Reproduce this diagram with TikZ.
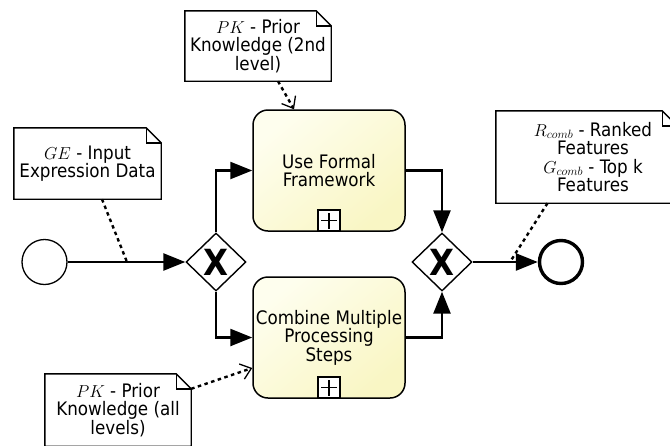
\documentclass[tikz,border=0pt]{standalone}
\usepackage[no-math]{fontspec}
\setmainfont{DejaVu Sans Condensed}
\usetikzlibrary{arrows.meta,shapes.geometric}

\definecolor{tasklight}{RGB}{254,254,238}
\definecolor{taskdark}{RGB}{249,246,196}

\begin{document}
\begin{tikzpicture}[x=1pt,y=-1pt,
  lbl/.style={font=\fontsize{18.6}{18.5}\selectfont, align=center, inner sep=0pt},
  task/.style={lbl, draw, line width=1.5pt, rounded corners=15pt,
    minimum width=152pt, minimum height=121pt,
    top color=tasklight, bottom color=taskdark, shading angle=40},
  plusbox/.style={draw, line width=1.3pt, fill=white, minimum width=22pt,
    minimum height=21pt, inner sep=0pt},
  gateway/.style={diamond, draw, line width=1.4pt, fill=white,
    minimum width=60pt, minimum height=58pt, inner sep=0pt,
    font=\fontsize{36}{36}\bfseries\selectfont},
  startev/.style={circle, draw, line width=1.3pt, fill=white, minimum size=45pt, inner sep=0pt},
  endev/.style={circle, draw, line width=3.4pt, fill=white, minimum size=43pt, inner sep=0pt},
  flow/.style={line width=2.5pt, -{Triangle[length=22pt,width=17pt]}},
  assoc/.style={line width=2.4pt, dash pattern=on 3.5pt off 3.5pt},
  assocarrow/.style={assoc, -{Straight Barb[length=10pt,width=16pt,line width=1.3pt]}},
  notebox/.style={lbl, fill=white},
  noteline/.style={line width=1.4pt, line join=miter}
]
\useasboundingbox (0,0) rectangle (670,445);

% events and gateways
\node[startev] (s) at (44.5,262) {};
\node[gateway] (g1) at (216,262) {X};
\node[gateway] (g2) at (442,262) {X};
\node[endev] (e) at (561,262) {};

% sub-process tasks with collapse markers
\node[task] (t1) at (329,170.5) {Use Formal\\Framework};
\node[task] (t2) at (329,337.5) {Combine Multiple\\Processing\\Steps};
\foreach \t in {t1,t2} {
  \node[plusbox, anchor=south] (\t p) at (\t.south) {};
  \draw[line width=1.2pt] ([xshift=-8pt]\t p.center) -- ([xshift=8pt]\t p.center);
  \draw[line width=1.2pt] ([yshift=-8pt]\t p.center) -- ([yshift=8pt]\t p.center);
}

% annotation notes
\node[notebox, minimum width=147pt, minimum height=71pt] (ge) at (87.5,163.5)
  {$GE$ - Input\\Expression Data};
\node[notebox, minimum width=146pt, minimum height=70pt] (pk2) at (258,46)
  {$PK$ - Prior\\Knowledge (2nd\\level)};
\node[notebox, minimum width=181pt, minimum height=92pt] (rk) at (586.5,157) {};
\node[lbl] (rktxt) at (593,157)
  {$R_{comb}$ - Ranked\\Features\\$G_{comb}$ - Top k\\Features};
\node[notebox, minimum width=146pt, minimum height=72pt] (pka) at (118,410)
  {$PK$ - Prior\\Knowledge (all\\levels)};

\foreach \n in {ge,pk2,rk,pka} {
  \draw[noteline] (\n.south west) -- (\n.north west) -- ([xshift=-15pt]\n.north east)
    -- ([yshift=-15pt]\n.north east) -- (\n.south east) -- cycle;
  \draw[noteline] ([xshift=-15pt]\n.north east) -- ([xshift=-15pt,yshift=-15pt]\n.north east)
    -- ([yshift=-15pt]\n.north east);
}

% sequence flows
\draw[flow] (s) -- (g1);
\draw[flow] (g1.north) |- (t1.west);
\draw[flow] (g1.south) |- (t2.west);
\draw[flow] (t1.east) -| (g2.north);
\draw[flow] (t2.east) -| (g2.south);
\draw[flow] (g2) -- (e);

% associations
\coordinate (a1) at (127,262);
\coordinate (a2) at (510,262);
\draw[assoc] ([xshift=14.5pt]ge.south) -- (a1);
\draw[assoc] ([xshift=-39pt]rk.south) -- (a2);
\draw[assocarrow] ([xshift=20pt]pk2.south) -- ([xshift=-35pt]t1.north);
\draw[assocarrow] ([yshift=-15pt]pka.north east) -- ([yshift=-30.5pt]t2.west);
\end{tikzpicture}
\end{document}
